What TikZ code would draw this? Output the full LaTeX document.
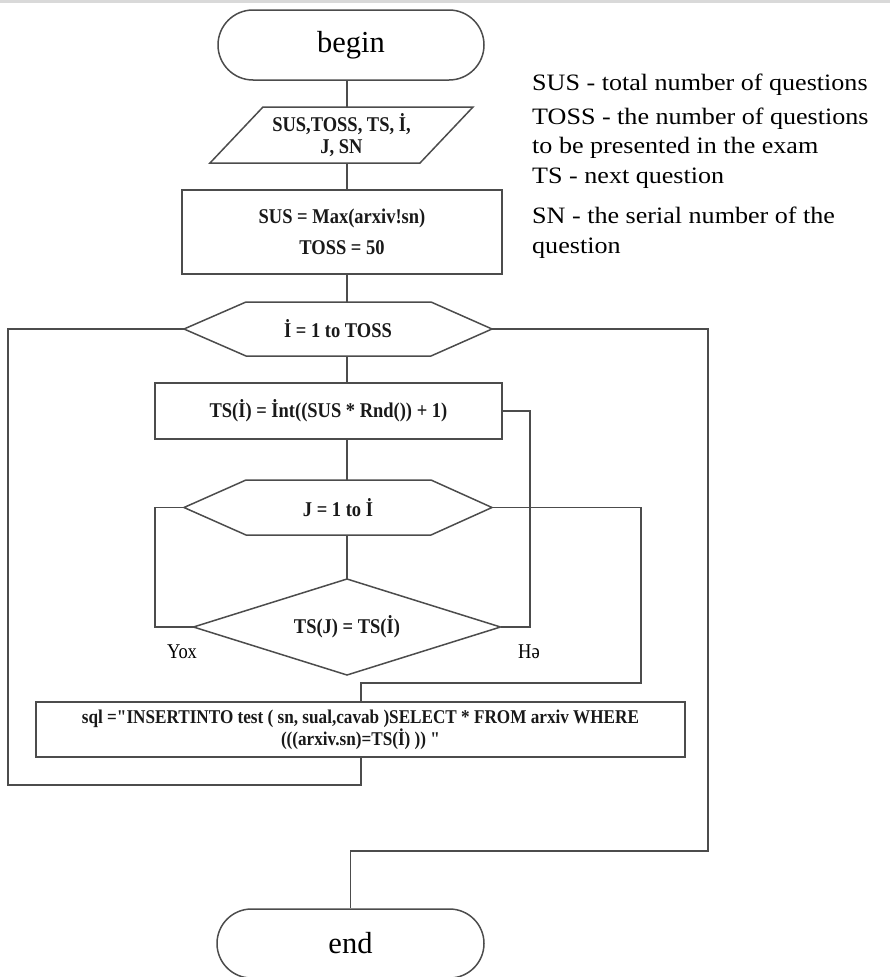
\documentclass[tikz,border=0pt]{standalone}
\usepackage{fontspec}
\usetikzlibrary{shapes.misc}
\setmainfont{Liberation Serif}
\newfontfamily\boxfont{Liberation Serif}[FakeStretch=0.88]
\newfontfamily\legfont{Liberation Serif}[FakeStretch=1.11]

\begin{document}
\begin{tikzpicture}[x=1pt,y=-1pt,
  line/.style={draw=black!70, line width=1.5pt},
  term/.style={rounded rectangle, line, minimum width=266pt, minimum height=70pt,
    inner sep=0pt, font=\fontsize{30.5}{34}\selectfont},
  carrier/.style={inner sep=0pt, outer sep=0pt, align=center, text=black!90,
    font=\boxfont\bfseries\fontsize{21}{31}\selectfont},
  outline/.style={line, line join=miter},
  lbl/.style={inner sep=0pt, font=\boxfont\fontsize{21}{23}\selectfont},
  leg/.style={anchor=base west, inner sep=0pt, font=\legfont\fontsize{23.5}{28}\selectfont},
]
\useasboundingbox (0,0) rectangle (890,977);
\fill[black!15] (0,0) rectangle (890,2.5);

% helper coordinates for the main spine and the loop rails
\coordinate (spine) at (347,0);
\coordinate (lpL) at (8,785);
\coordinate (lpB) at (361,785);
\coordinate (exR) at (708,851);
\coordinate (heR) at (530,627);
\coordinate (yoxL) at (155,627);
\coordinate (jR) at (641,683);

% terminals
\node[term] (begin) at (351,45) {begin};
\node[term, minimum width=267pt, minimum height=69pt] (end) at (350.5,943.5) {end};

% input block
\node[carrier, minimum width=263pt, minimum height=56pt,
  font=\boxfont\bfseries\fontsize{21}{22}\selectfont] (io) at (341.5,135)
  {SUS,TOSS, TS, İ,\\J, SN};
\draw[outline] (io.south west) -- ([xshift=53pt]io.north west) -- (io.north east)
  -- ([xshift=-53pt]io.south east) -- cycle;

% initialisation
\node[carrier, line, minimum width=320pt, minimum height=84pt] (init) at (342,232)
  {SUS = Max(arxiv!sn)\\TOSS = 50};

% outer loop
\node[carrier, minimum width=308pt, minimum height=54pt] (h1) at (338,329) {İ = 1 to TOSS};
\draw[outline] (h1.west) -- ([xshift=62pt]h1.north west) -- ([xshift=-61pt]h1.north east)
  -- (h1.east) -- ([xshift=-61pt]h1.south east) -- ([xshift=62pt]h1.south west) -- cycle;

\node[carrier, line, minimum width=347pt, minimum height=56pt] (ts) at (328.5,411)
  {TS(İ) = İnt((SUS * Rnd()) + 1)};

% inner loop
\node[carrier, minimum width=308pt, minimum height=55pt] (hj) at (338,507.5) {J = 1 to İ};
\draw[outline] (hj.west) -- ([xshift=62pt]hj.north west) -- ([xshift=-61pt]hj.north east)
  -- (hj.east) -- ([xshift=-61pt]hj.south east) -- ([xshift=62pt]hj.south west) -- cycle;

\node[carrier, minimum width=307pt, minimum height=96pt] (dia) at (347,627) {TS(J) = TS(İ)};
\draw[outline] (dia.north) -- (dia.east) -- (dia.south) -- (dia.west) -- cycle;

\node[lbl] (yox) at (182,652) {Yox};
\node[lbl] (he) at (529,652) {Hə};

% query block
\node[carrier, line, minimum width=649pt, minimum height=55pt,
  font=\boxfont\bfseries\fontsize{19.5}{22}\selectfont] (sql) at (360.5,729.5)
  {sql ="INSERTINTO test ( sn, sual,cavab )SELECT * FROM arxiv WHERE\\(((arxiv.sn)=TS(İ) )) "};

% main spine
\draw[line] (begin.south -| spine) -- (io.north -| spine);
\draw[line] (io.south -| spine) -- (init.north -| spine);
\draw[line] (init.south -| spine) -- (h1.north -| spine);
\draw[line] (h1.south -| spine) -- (ts.north -| spine);
\draw[line] (ts.south -| spine) -- (hj.north -| spine);
\draw[line] (hj.south -| spine) -- (dia.north);

% loop rails
\draw[line] (h1.west) -| (lpL) -- (lpB) -- (sql.south -| lpB);
\draw[line] (h1.east) -| (exR) -| (end.north);
\draw[line] (ts.east) -| (heR) -- (dia.east);
\draw[line] (hj.west) -| (yoxL) -- (dia.west);
\draw[line] (hj.east) -| (jR) -| (sql.north -| lpB);

% legend
\node[leg] (leg1) at (532,90.5) {SUS - total number of questions};
\node[leg] (leg2) at (532,124) {TOSS - the number of questions};
\node[leg] (leg3) at (532,153) {to be presented in the exam};
\node[leg] (leg4) at (532,183) {TS - next question};
\node[leg] (leg5) at (532,223) {SN - the serial number of the};
\node[leg] (leg6) at (532,253) {question};
\end{tikzpicture}
\end{document}
